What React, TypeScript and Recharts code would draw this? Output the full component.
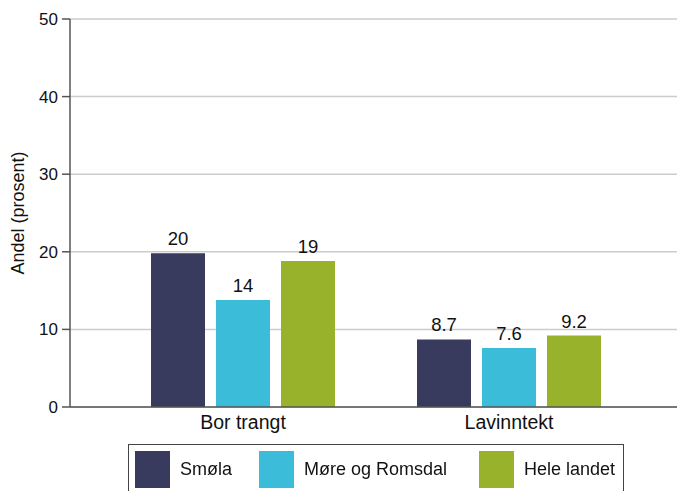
import React from 'react';
import { BarChart, Bar, XAxis, YAxis, CartesianGrid, LabelList } from 'recharts';

const categories = ['Bor trangt', 'Lavinntekt'];
const smola = [19.8, 8.7];
const moreRomsdal = [13.8, 7.6];
const heleLandet = [18.8, 9.2];
const yTicks = [0, 10, 20, 30, 40, 50];

const series = [
  { key: 'smola', name: 'Smøla', color: '#393b5e', values: smola },
  { key: 'more', name: 'Møre og Romsdal', color: '#3bbcd8', values: moreRomsdal },
  { key: 'hele', name: 'Hele landet', color: '#99b22b', values: heleLandet },
];

const data = categories.map((name, i) => {
  const row: Record<string, string | number> = { name };
  series.forEach(s => {
    row[s.key] = s.values[i];
  });
  return row;
});

const font = '"Liberation Sans", Arial, sans-serif';
const legendWidths = [124, 220, 140];

function YLabel() {
  return (
    <text
      x={18}
      y={213}
      transform="rotate(-90, 18, 213)"
      textAnchor="middle"
      dominantBaseline="central"
      fontSize={18}
      fill="#111"
      fontFamily={font}
    >
      Andel (prosent)
    </text>
  );
}

export default function App() {
  return (
    <div style={{ position: 'fixed', left: 0, top: 0, width: 677, height: 491, background: '#fff', fontFamily: font }}>
      <BarChart
        width={677}
        height={491}
        data={data}
        margin={{ top: 19, right: 0, left: 0, bottom: 54 }}
        barSize={54}
        barGap={11}
      >
        <CartesianGrid vertical={false} stroke="#cccccc" strokeWidth={1.5} />
        <XAxis
          dataKey="name"
          height={30}
          padding={{ left: 40, right: 35 }}
          tickLine={false}
          tickSize={0}
          tickMargin={8}
          stroke="#555"
          strokeWidth={1.5}
          tick={{ fill: '#111', fontSize: 19.5, fontFamily: font }}
        />
        <YAxis
          width={70}
          domain={[0, 50]}
          ticks={yTicks}
          tickSize={8}
          tickMargin={4}
          stroke="#555"
          strokeWidth={1.5}
          tick={{ fill: '#111', fontSize: 17, fontFamily: font }}
          label={<YLabel />}
        />
        {series.map(s => (
          <Bar key={s.key} dataKey={s.key} name={s.name} fill={s.color} isAnimationActive={false}>
            <LabelList
              dataKey={s.key}
              position="top"
              offset={8}
              formatter={(v: number) => Number(v).toPrecision(2)}
              style={{ fill: '#111', fontSize: 18.5, fontFamily: font }}
            />
          </Bar>
        ))}
      </BarChart>
      <div
        style={{
          position: 'absolute',
          left: 128,
          top: 444,
          width: 496,
          height: 60,
          border: '1px solid #444',
          boxSizing: 'border-box',
          display: 'flex',
          alignItems: 'flex-start',
          paddingLeft: 6,
          paddingTop: 6,
        }}
      >
        {series.map((s, i) => (
          <div key={s.key} style={{ display: 'flex', alignItems: 'center', width: legendWidths[i], flexShrink: 0 }}>
            <div style={{ width: 35, height: 37, background: s.color, marginRight: 10, flexShrink: 0 }} />
            <span style={{ fontSize: 18, color: '#111', whiteSpace: 'nowrap' }}>{s.name}</span>
          </div>
        ))}
      </div>
    </div>
  );
}
